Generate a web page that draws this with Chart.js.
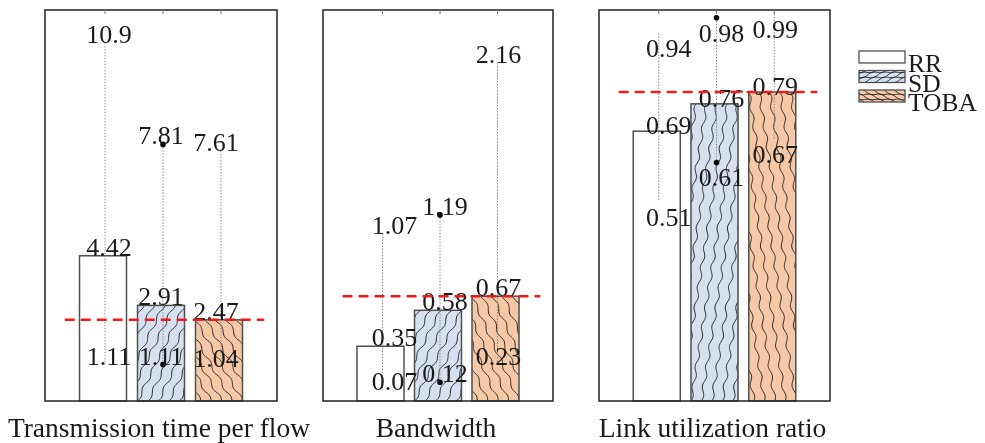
<!DOCTYPE html>
<html>
<head>
<meta charset="utf-8">
<script src="https://cdn.jsdelivr.net/npm/chart.js@4"></script>
<style>
    body { margin: 0; background: #fff; }
    #wrap { position: relative; width: 985px; height: 443px; overflow: hidden; }
    canvas { position: absolute; top: 0; }
</style>
</head>
<body>
<div id="wrap">
    <canvas id="timeChart" width="318" height="443" style="left:0px"></canvas>
    <canvas id="bwChart" width="267" height="443" style="left:318px"></canvas>
    <canvas id="linkChart" width="400" height="443" style="left:585px"></canvas>
</div>
<script>
//======== DATA ===========//

let methods = ['RR', 'SD', 'TOBA'];

let timeMean = [4.42, 2.91, 2.47];
let timeMax  = [10.9, 7.81, 7.61];
let timeMin  = [1.11, 1.11, 1.04];

let bwMean = [0.35, 0.58, 0.67];
let bwMax  = [1.07, 1.19, 2.16];
let bwMin  = [0.07, 0.12, 0.23];

let linkMean = [0.69, 0.76, 0.79];
let linkMax  = [0.94, 0.98, 0.99];
let linkMin  = [0.51, 0.61, 0.67];

let panelTitles = ['Transmission time per flow', 'Bandwidth', 'Link utilization ratio'];
let axisTop = [11.9, 2.5, 1.0];

//======== STYLE ===========//

let fillColors = ['#ffffff', '#d6e0f1', '#f6c8a5'];
let hatchDir = [0, 1, -1];      // 0 none, 1 "/", -1 "\"
let dotted = [false, true, false];
let serif = '"Liberation Serif", "Times New Roman", serif';

// draw the wavy MATLAB-like hatch inside a rectangle
function drawHatch(ctx, x, y, w, h, dir) {
    ctx.save();
    ctx.beginPath();
    ctx.rect(x, y, w, h);
    ctx.clip();
    ctx.strokeStyle = '#2a2a2a';
    ctx.lineWidth = 1;
    let gap = w / 4.5;
    let len = Math.hypot(w, h);
    let dx = dir * w / len, dy = -h / len;
    let nx = -dy, ny = dx;
    for (let k = -6; k <= 6; k++) {
        let x0 = (dir > 0 ? x : x + w) + k * gap;
        ctx.beginPath();
        for (let s = 0; s <= len + 1; s += 1) {
            let wob = 1.4 * Math.sin(s / 3.2);
            let px = x0 + dx * s + nx * wob;
            let py = y + h + dy * s + ny * wob;
            if (s == 0) ctx.moveTo(px, py); else ctx.lineTo(px, py);
        }
        ctx.stroke();
    }
    ctx.restore();
}

let panelPlugin = {
    id: 'panel',
    afterDatasetsDraw(chart, args, opts) {
        let ctx = chart.ctx;
        let area = chart.chartArea;
        let xs = chart.scales.x, ys = chart.scales.y;
        let bars = chart.getDatasetMeta(0).data;

        // hatch + outline again
        bars.forEach(function (bar, i) {
            let bx = bar.x - bar.width / 2, bh = bar.base - bar.y;
            if (hatchDir[i] != 0) drawHatch(ctx, bx, bar.y, bar.width, bh, hatchDir[i]);
            ctx.save();
            ctx.strokeStyle = '#505050';
            ctx.lineWidth = 1.5;
            ctx.strokeRect(bx, bar.y, bar.width, bh);
            ctx.restore();
        });

        // min-max dotted lines
        ctx.save();
        ctx.strokeStyle = '#8a8a8a';
        ctx.lineWidth = 1;
        ctx.setLineDash([1.5, 1.5]);
        methods.forEach(function (m, i) {
            let x = xs.getPixelForValue(i) + 2;
            ctx.beginPath();
            ctx.moveTo(x, ys.getPixelForValue(opts.max[i]));
            ctx.lineTo(x, ys.getPixelForValue(opts.min[i]));
            ctx.stroke();
        });
        ctx.restore();

        // dots on SD
        ctx.save();
        ctx.fillStyle = '#000';
        methods.forEach(function (m, i) {
            if (!dotted[i]) return;
            let x = xs.getPixelForValue(i) + 2;
            [opts.max[i], opts.min[i]].forEach(function (v) {
                ctx.beginPath();
                ctx.arc(x, ys.getPixelForValue(v), 2.8, 0, Math.PI * 2);
                ctx.fill();
            });
        });
        ctx.restore();

        // value labels
        ctx.save();
        ctx.font = '26px ' + serif;
        ctx.fillStyle = '#1a1a1a';
        ctx.textAlign = 'center';
        ctx.textBaseline = 'alphabetic';
        methods.forEach(function (m, i) {
            let x = xs.getPixelForValue(i) + opts.shift[i];
            ctx.fillText(String(opts.max[i]), x, ys.getPixelForValue(opts.max[i]) + opts.endOff);
            ctx.fillText(String(opts.min[i]), x, ys.getPixelForValue(opts.min[i]) + opts.endOff);
            ctx.fillText(String(opts.mean[i]), x, ys.getPixelForValue(opts.mean[i]) + opts.meanOff);
        });
        ctx.restore();

        // red dashed line at the TOBA mean
        let ry = ys.getPixelForValue(opts.mean[2]);
        ctx.save();
        ctx.strokeStyle = '#f01a1a';
        ctx.lineWidth = 2.5;
        ctx.setLineDash([10, 6]);
        ctx.beginPath();
        ctx.moveTo(xs.getPixelForValue(-0.66), ry);
        ctx.lineTo(xs.getPixelForValue(2.78), ry);
        ctx.stroke();
        ctx.restore();

        // box + top ticks
        ctx.save();
        ctx.strokeStyle = '#222';
        ctx.lineWidth = 1.5;
        ctx.strokeRect(area.left, area.top, area.right - area.left, area.bottom - area.top);
        ctx.strokeStyle = '#777';
        ctx.lineWidth = 1;
        methods.forEach(function (m, i) {
            let x = xs.getPixelForValue(i) + 2;
            ctx.beginPath();
            ctx.moveTo(x, area.top);
            ctx.lineTo(x, area.top + 4);
            ctx.stroke();
        });
        ctx.restore();

        // panel title under the box
        ctx.save();
        ctx.font = '27.5px ' + serif;
        ctx.fillStyle = '#1a1a1a';
        ctx.textAlign = 'center';
        ctx.fillText(opts.title, (area.left + area.right) / 2 - 2, 437);
        ctx.restore();

        // legend (only on last panel)
        if (opts.legend) {
            let lx = area.right + 29;
            methods.forEach(function (m, i) {
                let ty = 51 + i * 19.5;
                ctx.save();
                ctx.fillStyle = fillColors[i];
                ctx.fillRect(lx, ty, 46, 12);
                if (hatchDir[i] != 0) drawHatch(ctx, lx, ty, 46, 12, hatchDir[i]);
                ctx.strokeStyle = '#505050';
                ctx.lineWidth = 1.3;
                ctx.strokeRect(lx, ty, 46, 12);
                ctx.font = '25.5px ' + serif;
                ctx.fillStyle = '#1a1a1a';
                ctx.textAlign = 'left';
                ctx.fillText(m, lx + 49, ty + 21);
                ctx.restore();
            });
        }
    }
};

function makePanel(id, mean, max, min, title, top, pad, shift, endOff, meanOff, legend) {
    let ctx = document.getElementById(id).getContext('2d');
    return new Chart(ctx, {
        type: 'bar',
        data: {
            datasets: [{
                label: title,
                data: mean.map(function (v, i) { return { x: i, y: v }; }),
                backgroundColor: fillColors,
                borderColor: '#505050',
                borderWidth: 0,
                barThickness: 47
            }]
        },
        options: {
            responsive: false,
            animation: false,
            layout: { padding: pad },
            scales: {
                x: { type: 'linear', min: -1, max: 3, offset: false, display: false },
                y: { min: 0, max: top, display: false }
            },
            plugins: {
                legend: { display: false },
                tooltip: { enabled: false },
                panel: {
                    mean: mean, max: max, min: min, title: title,
                    shift: shift, endOff: endOff, meanOff: meanOff, legend: legend
                }
            }
        },
        plugins: [panelPlugin]
    });
}

makePanel('timeChart', timeMean, timeMax, timeMin, panelTitles[0], axisTop[0],
    { left: 45, right: 41, top: 10, bottom: 42 }, [6, 0, -3], 0, 0, false);
makePanel('bwChart', bwMean, bwMax, bwMin, panelTitles[1], axisTop[1],
    { left: 5, right: 32, top: 10, bottom: 42 }, [14, 7, 3], 0, 0, false);
makePanel('linkChart', linkMean, linkMax, linkMin, panelTitles[2], axisTop[2],
    { left: 14, right: 155, top: 10, bottom: 42 }, [12, 7, 3], 24, 3, true);
</script>
</body>
</html>
